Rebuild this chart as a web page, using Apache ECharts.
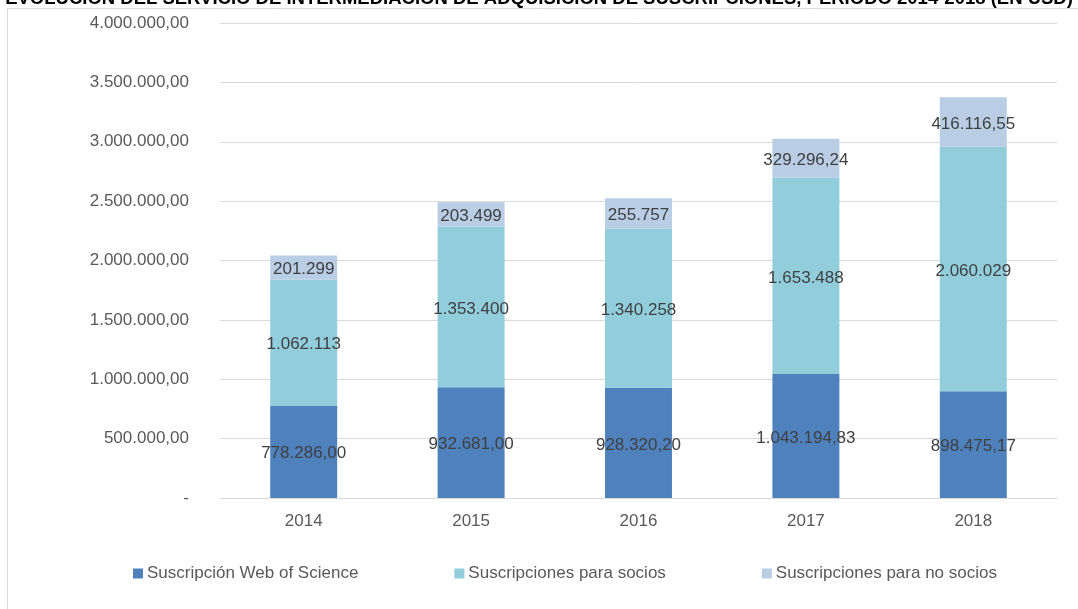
<!DOCTYPE html>
<html>
<head>
<meta charset="utf-8">
<script src="https://cdn.jsdelivr.net/npm/echarts@6/dist/echarts.min.js"></script>
<style>
  html, body { margin: 0; padding: 0; background: #fff; }
  #chart { width: 1078px; height: 609px; }
</style>
</head>
<body>
<div id="chart"></div>
<script>
var years = ['2014', '2015', '2016', '2017', '2018'];
var webOfScience = [778286.00, 932681.00, 928320.20, 1043194.83, 898475.17];
var paraSocios = [1062113, 1353400, 1340258, 1653488, 2060029];
var paraNoSocios = [201299, 203499, 255757, 329296.24, 416116.55];
// decimales mostrados en cada etiqueta
var decWos = [2, 2, 2, 2, 2];
var decSocios = [0, 0, 0, 0, 0];
var decNoSocios = [0, 0, 0, 2, 2];
var yTicks = [0, 500000, 1000000, 1500000, 2000000, 2500000, 3000000, 3500000, 4000000];

function fmt(v, dec) {
    var parts = v.toFixed(dec).split('.');
    var ent = parts[0].replace(/\B(?=(\d{3})+(?!\d))/g, '.');
    return dec > 0 ? ent + ',' + parts[1] : ent;
}

var font = "'Liberation Sans', Arial, sans-serif";

function serie(name, data, decs, color) {
    return {
        name: name,
        type: 'bar',
        stack: 'total',
        barWidth: '40%',
        data: data,
        itemStyle: { color: color },
        label: {
            show: true,
            position: 'inside',
            offset: [0, 2],
            color: '#404040',
            fontSize: 17,
            fontFamily: font,
            formatter: function (p) { return fmt(p.value, decs[p.dataIndex]); }
        }
    };
}

try {
    var myChart = echarts.init(document.getElementById('chart'));
    myChart.setOption({
        animation: false,
        title: {
            text: 'EVOLUCIÓN DEL SERVICIO DE INTERMEDIACIÓN DE ADQUISICIÓN DE SUSCRIPCIONES, PERIODO 2014-2018 (EN USD)',
            left: 'center',
            top: -16,
            textStyle: { color: '#000', fontSize: 18.5, fontWeight: 'bold', fontFamily: font }
        },
        graphic: [{
            type: 'rect',
            shape: { x: 7.5, y: 8.5, width: 1200, height: 800 },
            style: { fill: 'none', stroke: '#d9d9d9', lineWidth: 1 },
            silent: true
        }],
        grid: { left: 220, right: 21, top: 23, bottom: 111 },
        legend: {
            left: 133,
            top: 565,
            padding: 0,
            itemWidth: 10,
            itemHeight: 10,
            itemGap: 96,
            icon: 'rect',
            textStyle: { color: '#595959', fontSize: 17, fontFamily: font, padding: [0, 0, 0, -1] },
            data: ['Suscripción Web of Science', 'Suscripciones para socios', 'Suscripciones para no socios']
        },
        xAxis: {
            type: 'category',
            data: years,
            axisLine: { lineStyle: { color: '#d9d9d9' } },
            axisTick: { show: false },
            axisLabel: { color: '#595959', fontSize: 17, fontFamily: font, margin: 15 }
        },
        yAxis: {
            type: 'value',
            min: yTicks[0],
            max: yTicks[yTicks.length - 1],
            interval: yTicks[1] - yTicks[0],
            axisLine: { show: false },
            axisTick: { show: false },
            splitLine: { lineStyle: { color: '#d9d9d9' } },
            axisLabel: {
                color: '#595959', fontSize: 17, fontFamily: font, margin: 31,
                formatter: function (v) { return v === 0 ? '-' : fmt(v, 2); }
            }
        },
        series: [
            serie('Suscripción Web of Science', webOfScience, decWos, '#4f81bd'),
            serie('Suscripciones para socios', paraSocios, decSocios, '#92cddc'),
            serie('Suscripciones para no socios', paraNoSocios, decNoSocios, '#b9cde5')
        ]
    });
} catch (e) { console.log(e); }
</script>
</body>
</html>
